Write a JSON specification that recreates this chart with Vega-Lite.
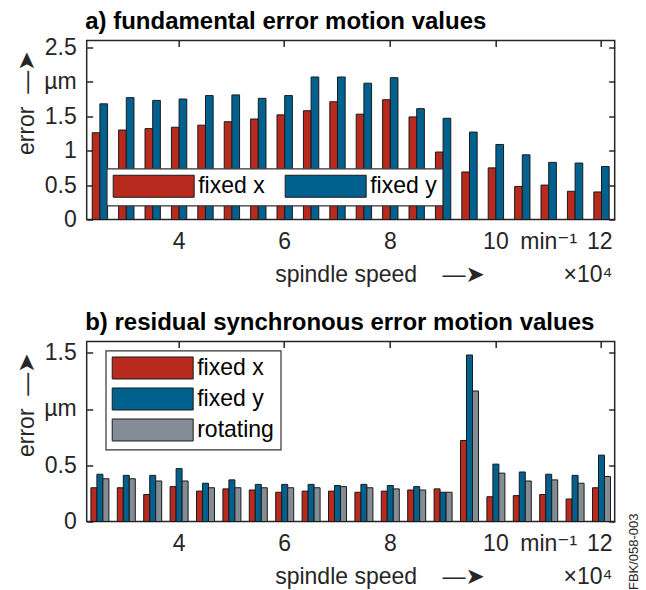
{
  "$schema": "https://vega.github.io/schema/vega-lite/v6.json",
  "padding": {"left": 14.7, "top": -43.5, "right": 4, "bottom": 0},
  "bounds": "flush",
  "spacing": 122,
  "datasets": {
    "fund": [
      {"speed": 2.5, "series": "fixed x", "value": 1.26}, {"speed": 2.5, "series": "fixed y", "value": 1.68},
      {"speed": 3.0, "series": "fixed x", "value": 1.30}, {"speed": 3.0, "series": "fixed y", "value": 1.77},
      {"speed": 3.5, "series": "fixed x", "value": 1.32}, {"speed": 3.5, "series": "fixed y", "value": 1.73},
      {"speed": 4.0, "series": "fixed x", "value": 1.34}, {"speed": 4.0, "series": "fixed y", "value": 1.75},
      {"speed": 4.5, "series": "fixed x", "value": 1.37}, {"speed": 4.5, "series": "fixed y", "value": 1.80},
      {"speed": 5.0, "series": "fixed x", "value": 1.42}, {"speed": 5.0, "series": "fixed y", "value": 1.81},
      {"speed": 5.5, "series": "fixed x", "value": 1.46}, {"speed": 5.5, "series": "fixed y", "value": 1.76},
      {"speed": 6.0, "series": "fixed x", "value": 1.52}, {"speed": 6.0, "series": "fixed y", "value": 1.80},
      {"speed": 6.5, "series": "fixed x", "value": 1.58}, {"speed": 6.5, "series": "fixed y", "value": 2.07},
      {"speed": 7.0, "series": "fixed x", "value": 1.71}, {"speed": 7.0, "series": "fixed y", "value": 2.07},
      {"speed": 7.5, "series": "fixed x", "value": 1.53}, {"speed": 7.5, "series": "fixed y", "value": 1.98},
      {"speed": 8.0, "series": "fixed x", "value": 1.74}, {"speed": 8.0, "series": "fixed y", "value": 2.06},
      {"speed": 8.5, "series": "fixed x", "value": 1.49}, {"speed": 8.5, "series": "fixed y", "value": 1.61},
      {"speed": 9.0, "series": "fixed x", "value": 0.98}, {"speed": 9.0, "series": "fixed y", "value": 1.47},
      {"speed": 9.5, "series": "fixed x", "value": 0.69}, {"speed": 9.5, "series": "fixed y", "value": 1.27},
      {"speed": 10.0, "series": "fixed x", "value": 0.75}, {"speed": 10.0, "series": "fixed y", "value": 1.09},
      {"speed": 10.5, "series": "fixed x", "value": 0.48}, {"speed": 10.5, "series": "fixed y", "value": 0.94},
      {"speed": 11.0, "series": "fixed x", "value": 0.50}, {"speed": 11.0, "series": "fixed y", "value": 0.83},
      {"speed": 11.5, "series": "fixed x", "value": 0.41}, {"speed": 11.5, "series": "fixed y", "value": 0.82},
      {"speed": 12.0, "series": "fixed x", "value": 0.40}, {"speed": 12.0, "series": "fixed y", "value": 0.77}
    ],
    "res": [
      {"speed": 2.5, "series": "fixed x", "value": 0.30}, {"speed": 2.5, "series": "fixed y", "value": 0.42}, {"speed": 2.5, "series": "rotating", "value": 0.38},
      {"speed": 3.0, "series": "fixed x", "value": 0.30}, {"speed": 3.0, "series": "fixed y", "value": 0.41}, {"speed": 3.0, "series": "rotating", "value": 0.38},
      {"speed": 3.5, "series": "fixed x", "value": 0.24}, {"speed": 3.5, "series": "fixed y", "value": 0.41}, {"speed": 3.5, "series": "rotating", "value": 0.36},
      {"speed": 4.0, "series": "fixed x", "value": 0.31}, {"speed": 4.0, "series": "fixed y", "value": 0.47}, {"speed": 4.0, "series": "rotating", "value": 0.36},
      {"speed": 4.5, "series": "fixed x", "value": 0.27}, {"speed": 4.5, "series": "fixed y", "value": 0.34}, {"speed": 4.5, "series": "rotating", "value": 0.30},
      {"speed": 5.0, "series": "fixed x", "value": 0.29}, {"speed": 5.0, "series": "fixed y", "value": 0.37}, {"speed": 5.0, "series": "rotating", "value": 0.30},
      {"speed": 5.5, "series": "fixed x", "value": 0.28}, {"speed": 5.5, "series": "fixed y", "value": 0.33}, {"speed": 5.5, "series": "rotating", "value": 0.30},
      {"speed": 6.0, "series": "fixed x", "value": 0.26}, {"speed": 6.0, "series": "fixed y", "value": 0.33}, {"speed": 6.0, "series": "rotating", "value": 0.30},
      {"speed": 6.5, "series": "fixed x", "value": 0.27}, {"speed": 6.5, "series": "fixed y", "value": 0.33}, {"speed": 6.5, "series": "rotating", "value": 0.30},
      {"speed": 7.0, "series": "fixed x", "value": 0.27}, {"speed": 7.0, "series": "fixed y", "value": 0.32}, {"speed": 7.0, "series": "rotating", "value": 0.31},
      {"speed": 7.5, "series": "fixed x", "value": 0.26}, {"speed": 7.5, "series": "fixed y", "value": 0.33}, {"speed": 7.5, "series": "rotating", "value": 0.30},
      {"speed": 8.0, "series": "fixed x", "value": 0.27}, {"speed": 8.0, "series": "fixed y", "value": 0.32}, {"speed": 8.0, "series": "rotating", "value": 0.29},
      {"speed": 8.5, "series": "fixed x", "value": 0.28}, {"speed": 8.5, "series": "fixed y", "value": 0.31}, {"speed": 8.5, "series": "rotating", "value": 0.28},
      {"speed": 9.0, "series": "fixed x", "value": 0.29}, {"speed": 9.0, "series": "fixed y", "value": 0.26}, {"speed": 9.0, "series": "rotating", "value": 0.26},
      {"speed": 9.5, "series": "fixed x", "value": 0.72}, {"speed": 9.5, "series": "fixed y", "value": 1.48}, {"speed": 9.5, "series": "rotating", "value": 1.16},
      {"speed": 10.0, "series": "fixed x", "value": 0.22}, {"speed": 10.0, "series": "fixed y", "value": 0.51}, {"speed": 10.0, "series": "rotating", "value": 0.43},
      {"speed": 10.5, "series": "fixed x", "value": 0.23}, {"speed": 10.5, "series": "fixed y", "value": 0.44}, {"speed": 10.5, "series": "rotating", "value": 0.36},
      {"speed": 11.0, "series": "fixed x", "value": 0.24}, {"speed": 11.0, "series": "fixed y", "value": 0.42}, {"speed": 11.0, "series": "rotating", "value": 0.37},
      {"speed": 11.5, "series": "fixed x", "value": 0.20}, {"speed": 11.5, "series": "fixed y", "value": 0.41}, {"speed": 11.5, "series": "rotating", "value": 0.34},
      {"speed": 12.0, "series": "fixed x", "value": 0.30}, {"speed": 12.0, "series": "fixed y", "value": 0.59}, {"speed": 12.0, "series": "rotating", "value": 0.40}
    ]
  },
  "vconcat": [
    {
      "width": 528,
      "height": 179,
      "data": {"name": "fund"},
      "layer": [
        {
          "mark": {"type": "bar", "stroke": "#1a1a1a", "strokeWidth": 1},
          "encoding": {
            "x": {
              "field": "speed", "type": "ordinal",
              "scale": {"paddingInner": 0, "paddingOuter": 0},
              "axis": {
                "orient": "bottom", "values": [4, 6, 8, 10, 11, 12], "labelAngle": 0,
                "labelExpr": "datum.value == 11 ? 'min⁻¹' : datum.value == 12 ? ['12', '×10⁴'] : datum.label",
                "labelAlign": {"condition": {"test": "datum.value == 12", "value": "right"}, "value": "center"},
                "labelOffset": {"condition": {"test": "datum.value == 12", "value": 11}, "value": 0},
                "tickOpacity": {"condition": {"test": "datum.value == 11", "value": 0}, "value": 1},
                "labelLineHeight": 33, "labelPadding": 17,
                "title": "spindle speed\u00a0\u00a0\u00a0\u00a0—➤",
                "titleAlign": "left", "titleBaseline": "alphabetic", "titleX": 188, "titleY": 62
              }
            },
            "xOffset": {"field": "series", "type": "nominal", "scale": {"paddingInner": 0, "paddingOuter": 0.72}},
            "y": {
              "field": "value", "type": "quantitative",
              "scale": {"domain": [0, 2.5]},
              "axis": {
                "orient": "left", "values": [0, 0.5, 1, 1.5, 2, 2.5],
                "labelExpr": "datum.value == 2 ? 'µm' : format(datum.value, '~g')",
                "labelPadding": 16.5,
                "title": "error\u00a0\u00a0—➤", "titleAngle": 270,
                "titleAlign": "left", "titleBaseline": "alphabetic", "titleX": -53, "titleY": 114
              }
            },
            "color": {
              "field": "series", "type": "nominal",
              "scale": {"domain": ["fixed x", "fixed y"], "range": ["#B8291E", "#00618F"]},
              "legend": {"orient": "none", "legendX": 20, "legendY": 128, "direction": "horizontal", "columns": 2}
            }
          }
        },
        {
          "mark": {"type": "bar", "opacity": 0},
          "encoding": {
            "x": {"field": "speed", "type": "ordinal", "axis": {
              "orient": "top", "values": [4, 6, 8, 10, 12], "labels": false,
              "title": "a) fundamental error motion values",
              "titleFontWeight": "bold", "titleFontSize": 24, "titleColor": "#000000",
              "titleAlign": "left", "titleBaseline": "alphabetic", "titleX": -2, "titleY": -12}},
            "y": {"field": "value", "type": "quantitative", "axis": {"orient": "right", "values": [0, 0.5, 1, 1.5, 2, 2.5], "labels": false, "title": null}}
          }
        }
      ],
      "resolve": {"axis": {"x": "independent", "y": "independent"}}
    },
    {
      "width": 528,
      "height": 180,
      "data": {"name": "res"},
      "layer": [
        {
          "mark": {"type": "bar", "stroke": "#1a1a1a", "strokeWidth": 1},
          "encoding": {
            "x": {
              "field": "speed", "type": "ordinal",
              "scale": {"paddingInner": 0, "paddingOuter": 0},
              "axis": {
                "orient": "bottom", "values": [4, 6, 8, 10, 11, 12], "labelAngle": 0,
                "labelExpr": "datum.value == 11 ? 'min⁻¹' : datum.value == 12 ? ['12', '×10⁴'] : datum.label",
                "labelAlign": {"condition": {"test": "datum.value == 12", "value": "right"}, "value": "center"},
                "labelOffset": {"condition": {"test": "datum.value == 12", "value": 11}, "value": 0},
                "tickOpacity": {"condition": {"test": "datum.value == 11", "value": 0}, "value": 1},
                "labelLineHeight": 33, "labelPadding": 17,
                "title": "spindle speed\u00a0\u00a0\u00a0\u00a0—➤",
                "titleAlign": "left", "titleBaseline": "alphabetic", "titleX": 188, "titleY": 62
              }
            },
            "xOffset": {"field": "series", "type": "nominal", "scale": {"paddingInner": 0, "paddingOuter": 0.7}},
            "y": {
              "field": "value", "type": "quantitative",
              "scale": {"domain": [0, 1.5]},
              "axis": {
                "orient": "left", "values": [0, 0.5, 1, 1.5],
                "labelExpr": "datum.value == 1 ? 'µm' : format(datum.value, '~g')",
                "labelPadding": 16.5,
                "title": "error\u00a0\u00a0—➤", "titleAngle": 270,
                "titleAlign": "left", "titleBaseline": "alphabetic", "titleX": -53, "titleY": 115
              }
            },
            "color": {
              "field": "series", "type": "nominal",
              "scale": {"domain": ["fixed x", "fixed y", "rotating"], "range": ["#B8291E", "#00618F", "#848D96"]},
              "legend": {"orient": "none", "legendX": 19, "legendY": 9, "direction": "vertical"}
            }
          }
        },
        {
          "mark": {"type": "bar", "opacity": 0},
          "encoding": {
            "x": {"field": "speed", "type": "ordinal", "axis": {
              "orient": "top", "values": [4, 6, 8, 10, 12], "labels": false,
              "title": "b) residual synchronous error motion values",
              "titleFontWeight": "bold", "titleFontSize": 24, "titleColor": "#000000",
              "titleAlign": "left", "titleBaseline": "alphabetic", "titleX": -2, "titleY": -12}},
            "y": {"field": "value", "type": "quantitative", "axis": {
              "orient": "right", "values": [0, 0.5, 1, 1.5], "labels": false,
              "title": "FBK/058-003", "titleAngle": 270, "titleFontSize": 13, "titleAlign": "left",
              "titleBaseline": "middle", "titleX": 19, "titleY": 248}}
          }
        }
      ],
      "resolve": {"axis": {"x": "independent", "y": "independent"}}
    }
  ],
  "resolve": {
    "scale": {"color": "independent", "x": "independent", "y": "independent", "xOffset": "independent"},
    "legend": {"color": "independent"}
  },
  "config": {
    "font": "Liberation Sans, DejaVu Sans",
    "background": "white",
    "view": {"stroke": "#262626", "strokeWidth": 1.5},
    "axis": {
      "domain": false, "grid": false,
      "labelFont": "Liberation Sans, DejaVu Sans", "labelFontSize": 23, "labelColor": "#262626",
      "tickColor": "#262626", "tickSize": -6, "tickWidth": 1.5,
      "titleFont": "Liberation Sans, DejaVu Sans", "titleFontSize": 23, "titleFontWeight": "normal", "titleColor": "#262626"
    },
    "legend": {
      "title": null,
      "symbolType": "M-3.68,-1H3.68V1H-3.68Z",
      "symbolSize": 484,
      "symbolStrokeColor": "#1a1a1a", "symbolStrokeWidth": 1, "symbolOpacity": 1,
      "symbolOffset": 29.5, "labelOffset": 33,
      "labelFont": "Liberation Sans, DejaVu Sans", "labelFontSize": 23, "labelColor": "#000000",
      "padding": 6, "rowPadding": 4, "columnPadding": 18,
      "fillColor": "white", "strokeColor": "#333333", "strokeWidth": 1.2, "cornerRadius": 0
    }
  }
}
